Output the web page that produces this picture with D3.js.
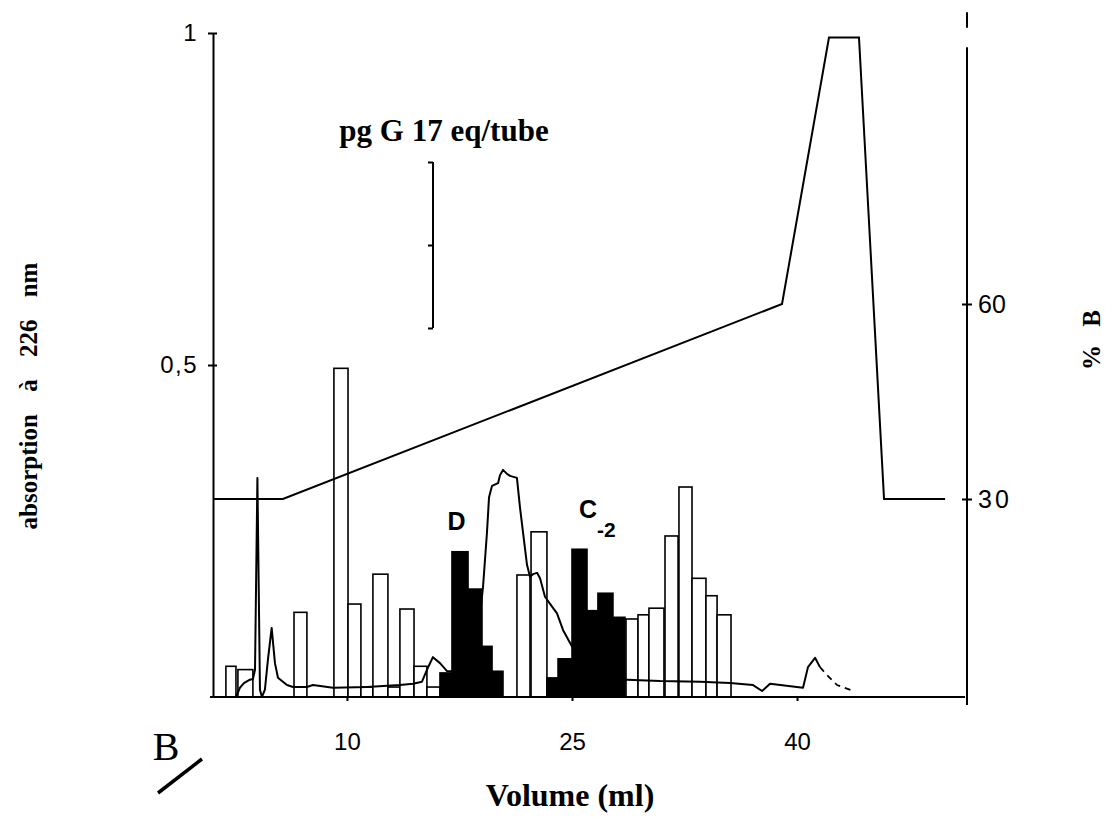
<!DOCTYPE html>
<html>
<head>
<meta charset="utf-8">
<script src="https://cdn.jsdelivr.net/npm/d3@7"></script>
<style>
  body { margin: 0; background: #fff; }
</style>
</head>
<body>
<svg id="chart" width="1113" height="820"></svg>
<script>
// fractions collected (ml) and immunoreactivity per tube (pg G17 eq, in units of the scale bar tick)
const tubeStart = [1.93, 2.73, 6.47, 9.13, 10.07, 10.93, 11.73, 12.73, 13.53, 14.47, 15.33, 16.2, 17.0, 18.07, 19.0, 19.67,
  21.33, 22.27, 23.33, 24.07, 25.0, 26.0, 26.73, 27.73, 28.6, 29.4, 30.13, 31.2, 32.13, 33.0, 33.93, 34.67];
const tubeEnd = [2.6, 3.73, 7.33, 10.07, 10.93, 11.73, 12.73, 13.53, 14.47, 15.33, 16.2, 17.0, 18.07, 19.0, 19.67, 20.4,
  22.2, 23.33, 24.07, 25.0, 26.0, 26.73, 27.73, 28.53, 29.4, 30.13, 31.13, 32.07, 33.0, 33.93, 34.67, 35.6];
const pgPerTube = [0.37, 0.33, 1.02, 3.96, 1.12, 0.12, 1.48, 0.12, 1.06, 0.37, 0.12, 0.29, 1.75, 1.30, 0.61, 0.31,
  1.47, 1.99, 0.23, 0.46, 1.78, 1.04, 1.25, 0.96, 0.94, 0.99, 1.07, 1.94, 2.53, 1.43, 1.22, 0.99];
const peakOfTube = ["", "", "", "", "", "", "", "", "", "", "", "D", "D", "D", "D", "D",
  "", "", "C2", "C2", "C2", "C2", "C2", "C2", "", "", "", "", "", "", "", ""];

// absorption at 226 nm
const absVolume = [1.07, 2.6, 2.87, 3.13, 3.53, 3.73, 3.87, 4.03, 4.2, 4.33, 4.53, 4.73, 4.98, 5.2, 5.4, 6.0, 6.4,
  7.33, 7.73, 9.07, 11.33, 13.53, 14.4, 15.0, 15.33, 15.73, 16.2, 16.67, 17.53, 18.53, 19.07, 19.33, 19.47, 19.67,
  20.07, 20.2, 20.4, 20.67, 20.87, 21.33, 21.53, 21.8, 22.0, 22.2, 22.4, 22.67, 22.87, 23.2, 23.67, 24.0, 24.4, 25.0,
  26.2, 27.53, 28.67, 30.87, 33.53, 35.53, 37.07, 37.67, 38.2, 40.4, 40.73, 41.2, 41.53, 42.0, 42.67, 43.87];
const absValue = [0, 0, 0.014, 0.021, 0.026, 0.027, 0.041, 0.33, 0.011, 0, 0.011, 0.056, 0.104, 0.051, 0.029, 0.018, 0.015,
  0.015, 0.018, 0.014, 0.015, 0.018, 0.02, 0.023, 0.041, 0.06, 0.051, 0.039, 0.038, 0.056, 0.166, 0.247, 0.301, 0.318,
  0.322, 0.334, 0.342, 0.336, 0.333, 0.33, 0.286, 0.236, 0.199, 0.181, 0.185, 0.187, 0.179, 0.151, 0.136, 0.126, 0.101, 0.076,
  0.045, 0.027, 0.026, 0.024, 0.023, 0.021, 0.018, 0.009, 0.02, 0.014, 0.045, 0.059, 0.045, 0.033, 0.018, 0.008];
const absDashedFrom = 41.53;

// gradient, % B
const gradVolume = [1.07, 5.73, 39.0, 42.13, 44.13, 45.8, 49.87];
const gradPctB = [30, 30, 60, 101, 101, 30, 30];

// ticks
const xTicks = [10, 25, 40];
const absTicks = [0.5, 1];
const pctBTicks = [30, 60];
const pgBarTicks = [0, 1, 2];

// peak labels
const peakNames = ["D", "C"];
const peakVolume = [17.3, 26.2];

const svg = d3.select("#chart");
const W = 1113, H = 820;
svg.append("rect").attr("width", W).attr("height", H).attr("fill", "#fff");

const plot = {left: 213, right: 967, top: 33, bottom: 697};
const sans = "'Liberation Sans', Arial, sans-serif";
const serif = "'Liberation Serif', 'Times New Roman', serif";

const x = d3.scaleLinear().domain([1.07, 51.33]).range([plot.left, plot.right]);
const yAbs = d3.scaleLinear().domain([0, 1]).range([plot.bottom, plot.top]);
const yB = d3.scaleLinear().domain([0, 100]).range([694, 44]);
const yPg = d3.scaleLinear().domain([0, 1]).range([plot.bottom, plot.bottom - 83]);

// bars
const tubes = tubeStart.map((s, i) => ({s: s, e: tubeEnd[i], pg: pgPerTube[i], peak: peakOfTube[i]}));
svg.append("g").selectAll("rect")
  .data(tubes)
  .join("rect")
  .attr("x", d => x(d.s))
  .attr("width", d => x(d.e) - x(d.s))
  .attr("y", d => yPg(d.pg))
  .attr("height", d => yPg(0) - yPg(d.pg))
  .attr("fill", d => d.peak ? "#000" : "#fff")
  .attr("stroke", "#000")
  .attr("stroke-width", 1.6);

// absorption trace
const absPts = absVolume.map((v, i) => [v, absValue[i]]);
const cut = absVolume.indexOf(absDashedFrom);
const absLine = d3.line().x(d => x(d[0])).y(d => yAbs(d[1]));
svg.append("path")
  .attr("d", absLine(absPts.slice(0, cut + 1)))
  .attr("fill", "none").attr("stroke", "#000").attr("stroke-width", 2).attr("stroke-linejoin", "round");
svg.append("path")
  .attr("d", absLine(absPts.slice(cut)))
  .attr("fill", "none").attr("stroke", "#000").attr("stroke-width", 1.8).attr("stroke-dasharray", "6,5");

// gradient
const gradLine = d3.line().x(d => x(d[0])).y(d => yB(d[1]));
svg.append("path")
  .attr("d", gradLine(gradVolume.map((v, i) => [v, gradPctB[i]])))
  .attr("fill", "none").attr("stroke", "#000").attr("stroke-width", 2);

// axes
function styleAxis(g, size) {
  g.selectAll("path, line").attr("stroke", "#000").attr("stroke-width", 2);
  g.selectAll("text").attr("font-family", sans).attr("font-size", size).attr("fill", "#000");
}

const gL = svg.append("g")
  .attr("transform", `translate(${plot.left},0)`)
  .call(d3.axisLeft(yAbs).tickValues(absTicks).tickSize(5).tickPadding(10).tickSizeOuter(0)
    .tickFormat(d => String(d).replace(".", ",")));
gL.selectAll(".tick").append("line").attr("x2", 4);
styleAxis(gL, 24);
gL.selectAll("text").attr("letter-spacing", 1.5);

const gR = svg.append("g")
  .attr("transform", `translate(${plot.right},0)`)
  .call(d3.axisRight(yB).tickValues(pctBTicks).tickSize(5).tickPadding(6).tickSizeOuter(0));
gR.select(".domain").attr("d", `M0,${yB(-1.7)}V${yB(99.5)}M0,${yB(102.5)}V${yB(104.9)}`);
gR.selectAll(".tick").append("line").attr("x2", -5);
styleAxis(gR, 25);
gR.selectAll("text").attr("letter-spacing", d => d === 30 ? 3 : 0);

const gX = svg.append("g")
  .attr("transform", `translate(0,${plot.bottom})`)
  .call(d3.axisBottom(x).tickValues(xTicks).tickSize(4).tickPadding(32).tickSizeOuter(0));
gX.select(".domain").attr("d", `M${x(0.87)},0H${x(51.2)}`);
styleAxis(gX, 24);

// pg G17 scale bar
const gPg = svg.append("g")
  .attr("transform", `translate(433,${328 - plot.bottom})`)
  .call(d3.axisLeft(yPg).tickValues(pgBarTicks).tickSize(5).tickFormat("").tickSizeOuter(0));
gPg.select(".domain").attr("d", `M0,${yPg(0)}V${yPg(2)}`);
styleAxis(gPg, 10);

svg.append("text")
  .attr("x", 444).attr("y", 141)
  .attr("text-anchor", "middle")
  .attr("font-family", serif).attr("font-weight", "bold").attr("font-size", 31)
  .text("pg G 17 eq/tube");

// peak labels
svg.append("text")
  .attr("x", x(peakVolume[0])).attr("y", yPg(1.75) - 22)
  .attr("text-anchor", "middle")
  .attr("font-family", sans).attr("font-weight", "bold").attr("font-size", 25)
  .text(peakNames[0]);
const c2 = svg.append("text")
  .attr("x", x(peakVolume[1]) - 11).attr("y", yPg(1.78) - 31)
  .attr("font-family", sans).attr("font-weight", "bold").attr("font-size", 25);
c2.append("tspan").text(peakNames[1]);
c2.append("tspan").attr("dy", 19).attr("font-size", 21).text("-2");

// axis titles
svg.append("text")
  .attr("x", 570).attr("y", 806)
  .attr("text-anchor", "middle")
  .attr("font-family", serif).attr("font-weight", "bold").attr("font-size", 32)
  .text("Volume (ml)");

svg.append("text")
  .attr("transform", "translate(37,396) rotate(-90)")
  .attr("text-anchor", "middle")
  .attr("font-family", serif).attr("font-weight", "bold").attr("font-size", 25)
  .attr("word-spacing", 16)
  .text("absorption à 226 nm");

svg.append("text")
  .attr("transform", "translate(1100,340) rotate(-90)")
  .attr("text-anchor", "middle")
  .attr("font-family", serif).attr("font-weight", "bold").attr("font-size", 25)
  .attr("word-spacing", 12)
  .text("% B");

// panel letter
svg.append("text")
  .attr("x", 166).attr("y", 760)
  .attr("text-anchor", "middle")
  .attr("font-family", serif).attr("font-size", 40)
  .text("B");
svg.append("line")
  .attr("x1", 158).attr("y1", 793).attr("x2", 202).attr("y2", 759)
  .attr("stroke", "#000").attr("stroke-width", 3.5);
</script>
</body>
</html>
